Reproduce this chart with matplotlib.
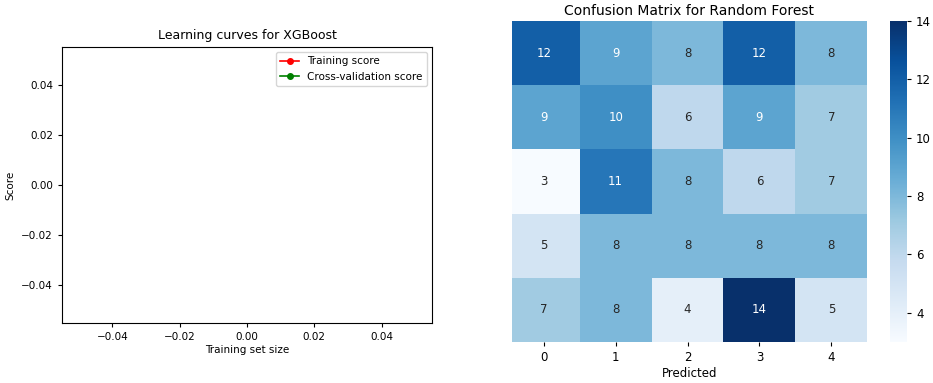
import numpy as np
import matplotlib
matplotlib.use("Agg")
import matplotlib.pyplot as plt
import seaborn as sns

# Learning-curve results (empty: no scores were recorded)
train_sizes = []
train_scores_mean = []
test_scores_mean = []

# Confusion matrix for the random forest model
class_labels = ["0", "1", "2", "3", "4"]
confusion = [
    [12, 9, 8, 12, 8],
    [9, 10, 6, 9, 7],
    [3, 11, 8, 6, 7],
    [5, 8, 8, 8, 8],
    [7, 8, 4, 14, 5],
]

W, H = 933, 383
fig = plt.figure(figsize=(W / 100, H / 100), dpi=100)

# Left: learning curves
ax1 = fig.add_axes([62 / W, (H - 323) / H, 370 / W, 276 / H])
ax1.plot(train_sizes, train_scores_mean, "o-", color="r", ms=4, lw=1.2,
         label="Training score")
ax1.plot(train_sizes, test_scores_mean, "o-", color="g", ms=4, lw=1.2,
         label="Cross-validation score")
ax1.set_xlim(-0.055, 0.055)
ax1.set_ylim(-0.055, 0.055)
ax1.set_xticks([-0.04, -0.02, 0.0, 0.02, 0.04])
ax1.set_yticks([-0.04, -0.02, 0.0, 0.02, 0.04])
ax1.set_title("Learning curves for XGBoost", fontsize=9)
ax1.set_xlabel("Training set size", fontsize=7.5, labelpad=2)
ax1.set_ylabel("Score", fontsize=7.5)
ax1.tick_params(labelsize=7.5, length=3)
ax1.legend(loc="upper right", fontsize=7.5, handlelength=1.8)

# Right: confusion matrix heatmap (left edge of the first column trimmed)
x_start = 0.055
ax2 = fig.add_axes([511.7 / W, (H - 342) / H, 355.6 / W, 321 / H])
cax = fig.add_axes([890 / W, (H - 342) / H, 17 / W, 321 / H])
sns.heatmap(np.array(confusion), annot=True, fmt="d", cmap="Blues",
            ax=ax2, cbar_ax=cax, annot_kws={"fontsize": 8.5},
            xticklabels=class_labels, yticklabels=False)
ax2.set_xlim(x_start, len(class_labels))
ax2.set_title("Confusion Matrix for Random Forest", fontsize=10, pad=4)
ax2.set_xlabel("Predicted", fontsize=8.5, labelpad=2)
ax2.tick_params(axis="x", labelsize=8.5, length=3)
cax.tick_params(labelsize=8.5, length=3)
cax.set_yticks([4, 6, 8, 10, 12, 14])
for s in cax.spines.values():
    s.set_visible(False)

fig.savefig("out.png", dpi=100)
